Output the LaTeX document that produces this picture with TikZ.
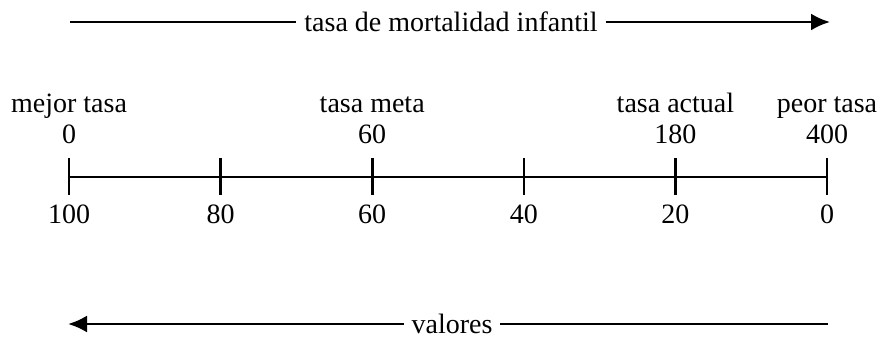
\documentclass[tikz,border=0pt]{standalone}
\usepackage{fontspec}
\setmainfont{Liberation Serif}
\usetikzlibrary{arrows.meta}
\tikzset{
  flecha/.style={-{Latex[length=9.5pt,width=8.5pt]}},
  rotulo/.style={anchor=base,inner sep=0pt}
}
\begin{document}
\begin{tikzpicture}[x=0.5pt,y=0.5pt,line width=1.3pt,font=\fontsize{14}{16}\selectfont]
    \def\x{151.6}
    \useasboundingbox (0,0) rectangle (881,338);
    % flecha de arriba
    \coordinate (M0_0) at (70,316);
    \node (M0_1) at (451,316) {tasa de mortalidad infantil};
    \coordinate (M0_2) at (830,316);
    \draw (M0_0) -- (M0_1);
    \draw [flecha] (M0_1) -- (M0_2);
    % eje
    \foreach \i/\v in {0/100,1/80,2/60,3/40,4/20,5/0} {
      \coordinate (A\i) at (69+\i*\x,161);
      \coordinate (A\i_u) at (69+\i*\x,180);
      \coordinate (A\i_d) at (69+\i*\x,143);
      \draw (A\i_u) -- (A\i_d);
      \node [rotulo] (V\i) at (69+\i*\x,115) {\v};
    }
    \draw (A0) -- (A5);
    % tasas
    \node [rotulo] (R0_0) at (69+0*\x,226) {mejor tasa};
    \node [rotulo] (R0_1) at (69+0*\x,195) {0};
    \node [rotulo] (R2_0) at (69+2*\x,226) {tasa meta};
    \node [rotulo] (R2_1) at (69+2*\x,195) {60};
    \node [rotulo] (R4_0) at (69+4*\x,226) {tasa actual};
    \node [rotulo] (R4_1) at (69+4*\x,195) {180};
    \node [rotulo] (R5_0) at (69+5*\x,226) {peor tasa};
    \node [rotulo] (R5_1) at (69+5*\x,195) {400};
    % flecha de abajo
    \coordinate (B0_0) at (68,14);
    \node (B0_1) at (452,14) {valores};
    \coordinate (B0_2) at (828,14);
    \draw [flecha] (B0_1) -- (B0_0);
    \draw (B0_1) -- (B0_2);
\end{tikzpicture}
\end{document}
